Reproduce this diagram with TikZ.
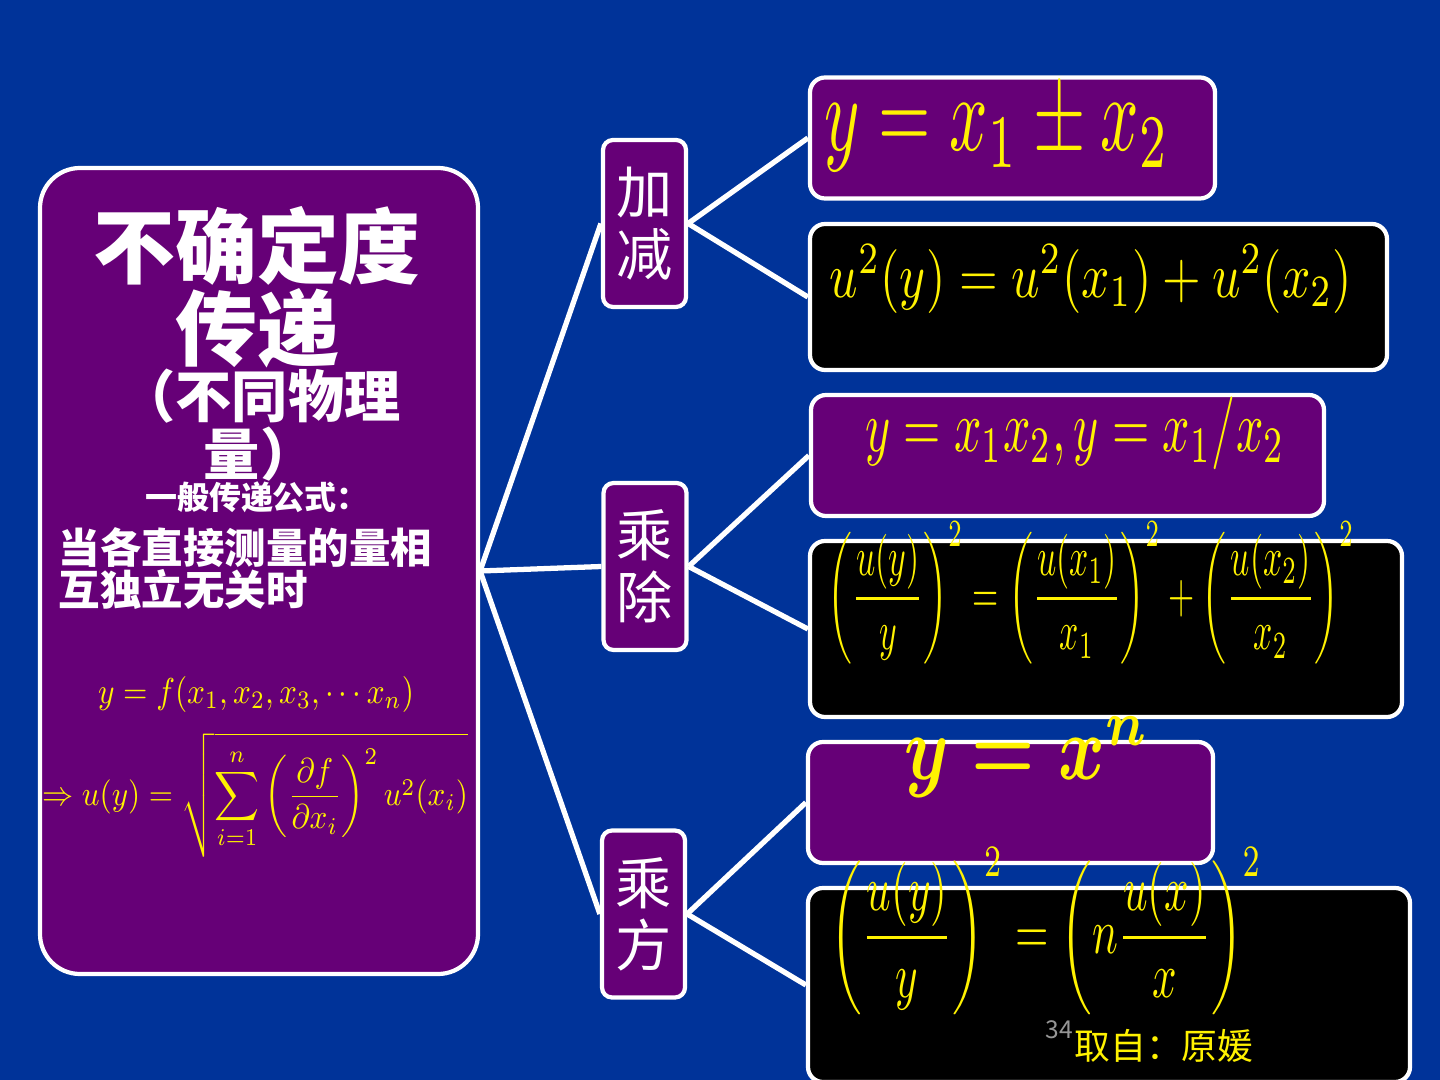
\documentclass[tikz,border=0pt]{standalone}
\usepackage{amsmath}
\usepackage{fontspec}
\setmainfont{Noto Sans CJK SC}
\usepackage{graphicx}
\usetikzlibrary{backgrounds}
\definecolor{bgblue}{RGB}{0,51,153}
\definecolor{purp}{RGB}{102,0,119}
\definecolor{numgray}{RGB}{150,150,150}
\begin{document}
\begin{tikzpicture}[
  mainbox/.style={draw=white, line width=1.2pt, fill=purp, rounded corners=0.4cm, minimum width=4.38cm, minimum height=8.06cm, inner sep=0pt},
  opbox/.style={draw=white, line width=1.2pt, fill=purp, rounded corners=0.1cm, minimum width=0.83cm, minimum height=1.67cm, inner sep=0pt, text=white, align=center, font=\fontsize{16}{17.6}\selectfont},
  eqbox/.style={draw=white, line width=1.2pt, fill=purp, rounded corners=0.15cm, minimum height=1.21cm, inner sep=0pt},
  ubox/.style={eqbox, fill=black},
  yel/.style={text=yellow, inner sep=0pt},
  wht/.style={text=white, inner sep=0pt, align=center},
  link/.style={white, line width=1.5pt}
]
\useasboundingbox (0,0) rectangle (14.4,-10.8);
\begin{scope}[on background layer]
\fill[bgblue] (0,0) rectangle (14.4,-10.8);
\end{scope}

\node[mainbox] (main) at (2.59,-5.71) {};
\node[opbox] (add) at (6.445,-2.235) {加\\减};
\node[opbox] (mul) at (6.45,-5.665) {乘\\除};
\node[opbox] (pow) at (6.435,-9.14) {乘\\方};

\node[eqbox, minimum width=4.05cm] (e1) at (10.125,-1.38) {};
\node[ubox, minimum width=5.77cm, minimum height=1.46cm] (u1) at (10.985,-2.97) {};
\node[eqbox, minimum width=5.13cm] (e2) at (10.675,-4.555) {};
\node[ubox, minimum width=5.92cm, minimum height=1.76cm] (u2) at (11.06,-6.29) {};
\node[eqbox, minimum width=4.05cm] (e3) at (10.105,-8.025) {};
\node[ubox, minimum width=6.02cm, minimum height=1.94cm] (u3) at (11.09,-9.85) {};

\node[wht, font=\bfseries\fontsize{23.3}{21.9}\selectfont] (title) at (2.57,-2.87) {不确定度\\传递};
\node[wht, font=\bfseries\fontsize{16}{14.8}\selectfont] (sub) at (2.60,-4.25) {（不同物理\\量）};
\node[wht, font=\bfseries\fontsize{9.1}{10}\selectfont] (gen) at (2.57,-4.97) {一般传递公式：};
\node[wht, align=left, anchor=west, font=\bfseries\fontsize{11.8}{12}\selectfont] (cond) at (0.58,-5.685) {当各直接测量的量相\\互独立无关时};
\node[yel] (fy) at (2.56,-6.94) {\resizebox*{3.16cm}{0.36cm}{$y=f(x_1,x_2,x_3,\cdots x_n)$}};
\node[yel] (fu) at (2.55,-7.95) {\resizebox*{4.26cm}{1.25cm}{$\displaystyle\Rightarrow u(y)=\sqrt{\sum_{i=1}^{n}\left(\frac{\partial f}{\partial x_i}\right)^{2}u^{2}(x_i)}$}};

\node[yel] (t1) at (9.97,-1.30) {\resizebox*{3.45cm}{0.84cm}{$y=x_1\pm x_2$}};
\node[yel] (t2) at (10.91,-2.79) {\resizebox*{5.22cm}{0.68cm}{$u^2(y)=u^2(x_1)+u^2(x_2)$}};
\node[yel] (t3) at (10.75,-4.33) {\resizebox*{4.2cm}{0.73cm}{$y=x_1x_2,y=x_1/x_2$}};
\node[yel] (t4) at (10.91,-5.93) {\resizebox*{5.27cm}{1.43cm}{$\displaystyle\left(\frac{u(y)}{y}\right)^{2}=\left(\frac{u(x_1)}{x_1}\right)^{2}+\left(\frac{u(x_2)}{x_2}\right)^{2}$}};
\node[yel] (t5) at (10.27,-7.57) {\resizebox*{2.45cm}{0.8cm}{$\boldsymbol{y=x^{n}}$}};
\node[yel] (t6) at (10.46,-9.31) {\resizebox*{4.32cm}{1.67cm}{$\displaystyle\left(\frac{u(y)}{y}\right)^{2}=\left(n\frac{u(x)}{x}\right)^{2}$}};

\node[text=numgray, inner sep=0pt, font=\fontsize{7}{8}\selectfont] (pg) at (10.595,-10.295) {34};
\node[yel, font=\fontsize{10.2}{11}\selectfont] (src) at (11.64,-10.46) {取自：原媛};

\begin{scope}[on background layer]
\draw[link] (main.east) -- (add.west);
\draw[link] (main.east) -- (mul.west);
\draw[link] (main.east) -- (pow.west);
\draw[link] (add.east) -- (e1.west);
\draw[link] (add.east) -- (u1.west);
\draw[link] (mul.east) -- (e2.west);
\draw[link] (mul.east) -- (u2.west);
\draw[link] (pow.east) -- (e3.west);
\draw[link] (pow.east) -- (u3.west);
\end{scope}
\end{tikzpicture}
\end{document}
